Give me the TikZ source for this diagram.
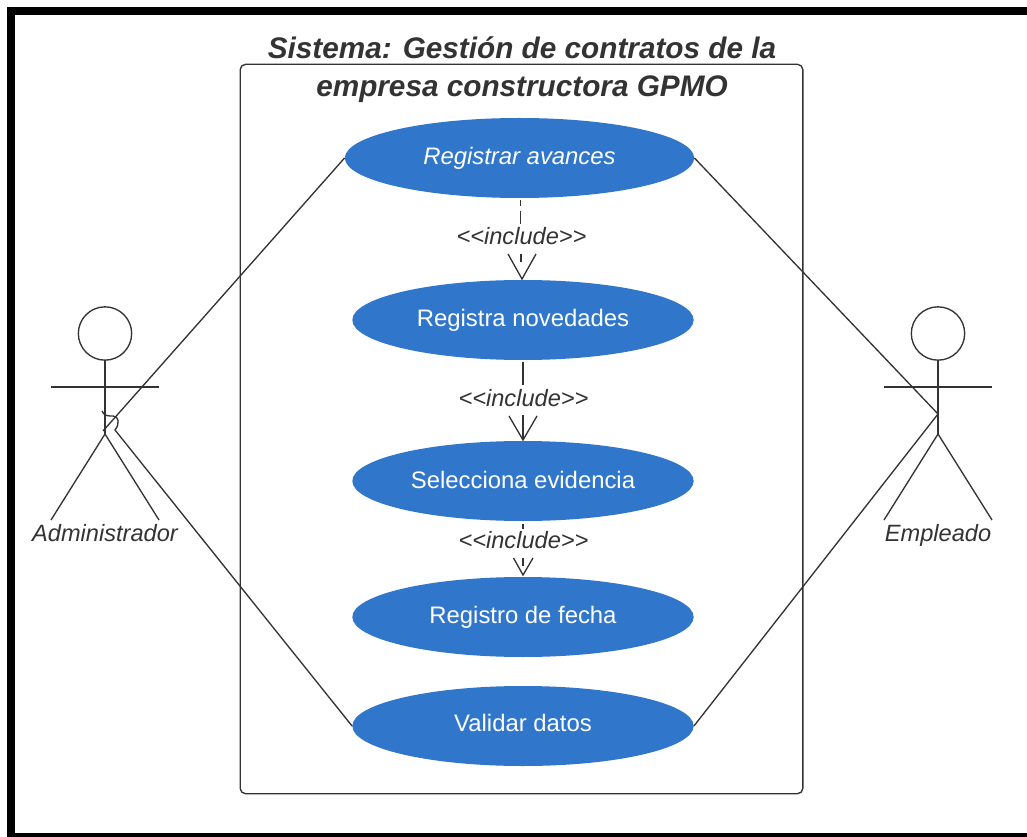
\documentclass[tikz,border=0pt]{standalone}
\usepackage{fontspec}
\setmainfont{Liberation Sans}
\definecolor{ucblue}{HTML}{3077CC}
\definecolor{ink}{HTML}{333333}
\tikzset{
  usecase/.style={ellipse,fill=ucblue,text=white,inner sep=0pt,font=\fontsize{17.9}{20}\selectfont},
  line/.style={draw=ink,line width=1pt},
  lbl/.style={text=ink,font=\fontsize{17.7}{20}\selectfont\itshape,inner sep=0pt},
  openhead/.style={draw=ink,line width=1pt},
  actorhead/.style={circle,draw=ink,line width=1pt,minimum size=40pt,inner sep=0pt}
}
\usetikzlibrary{shapes.geometric}
\begin{document}
\begin{tikzpicture}[x=0.75pt,y=-0.75pt]
\useasboundingbox (0,0) rectangle (1027,837);
\fill[white] (0,0) rectangle (1027,837);
\fill[black] (7,7) rectangle (1027,15);
\fill[black] (7,7) rectangle (15,837);
\fill[black] (7,833) rectangle (1027,837);
% system
\node[draw=ink,line width=1pt,rounded corners=4pt,minimum width=422pt,minimum height=547pt,inner sep=0pt] (sys) at (521.5,429) {};
\node[lbl,align=center,font=\fontsize{22.3}{28.5}\selectfont\bfseries\itshape] (title) at (522,70) {Sistema: Gestión de contratos de la\\empresa constructora GPMO};
% use cases
\node[usecase,minimum width=262pt,minimum height=60pt] (u1) at (519.5,158) {\raisebox{1.5pt}{\itshape Registrar avances}};
\node[usecase,minimum width=256pt,minimum height=60pt] (u2) at (523,320) {\raisebox{1.5pt}{Registra novedades}};
\node[usecase,minimum width=256pt,minimum height=60pt] (u3) at (523,481) {\raisebox{2.4pt}{Selecciona evidencia}};
\node[usecase,minimum width=256pt,minimum height=60pt] (u4) at (523,617) {\raisebox{1.5pt}{Registro de fecha}};
\node[usecase,minimum width=256pt,minimum height=60pt] (u5) at (523,726) {\raisebox{4pt}{Validar datos}};
% actor left
\node[actorhead] (ha) at (105,333.5) {};
\coordinate (ah) at (105,434);
\coordinate (aL) at (51,387);
\coordinate (aR) at (159,387);
\coordinate (afl) at (51,520);
\coordinate (afr) at (159,520);
\draw[line] (ha.south) -- (ah);
\draw[line] (aL) -- (aR);
\draw[line] (afl) -- (ah) -- (afr);
\node[lbl,anchor=base] (la) at (105,541) {Administrador};
% actor right
\node[actorhead] (he) at (938,333.5) {};
\coordinate (eh) at (938,434);
\coordinate (eL) at (884,387);
\coordinate (eR) at (992,387);
\coordinate (efl) at (884,520);
\coordinate (efr) at (992,520);
\coordinate (ec) at (938,414);
\draw[line] (he.south) -- (eh);
\draw[line] (eL) -- (eR);
\draw[line] (efl) -- (eh) -- (efr);
\node[lbl,anchor=base] (le) at (938,541) {Empleado};
% associations
\coordinate (a1) at (103,431);
\coordinate (a2) at (115,430);
\draw[line] (u1.west) -- (a1);
\draw[line] (u5.west) -- (a2) .. controls (120,424) and (119,416) .. (113,416) .. controls (108,416) and (104,416) .. (102,411);
\draw[line] (u1.east) -- (ec);
\draw[line] (u5.east) -- (ec);
% includes
\coordinate (i1b) at (522,279);
\coordinate (i2t) at (523,440);
\coordinate (i3t) at (523,575);
\draw[line,dash pattern=on 4.5pt off 3.5pt on 10pt off 5pt] (520.5,200) -- (520.5,224);
\draw[line] (521,254) -- (521,262);
\draw[openhead] (508,254) -- (i1b) -- (536,254);
\draw[line] (523,362) -- (523,385);
\draw[line] (523,415) -- (i2t);
\draw[openhead] (509,416) -- (i2t) -- (537,416);
\draw[line] (523,524) -- (523,529);
\draw[line] (523,558) -- (523,566);
\draw[openhead] (513.5,558) -- (i3t) -- (533,558);
\node[lbl] (t1) at (521.5,236) {<{}<include>{}>};
\node[lbl] (t2) at (523.5,398) {<{}<include>{}>};
\node[lbl] (t3) at (523.5,540) {<{}<include>{}>};
\end{tikzpicture}
\end{document}
